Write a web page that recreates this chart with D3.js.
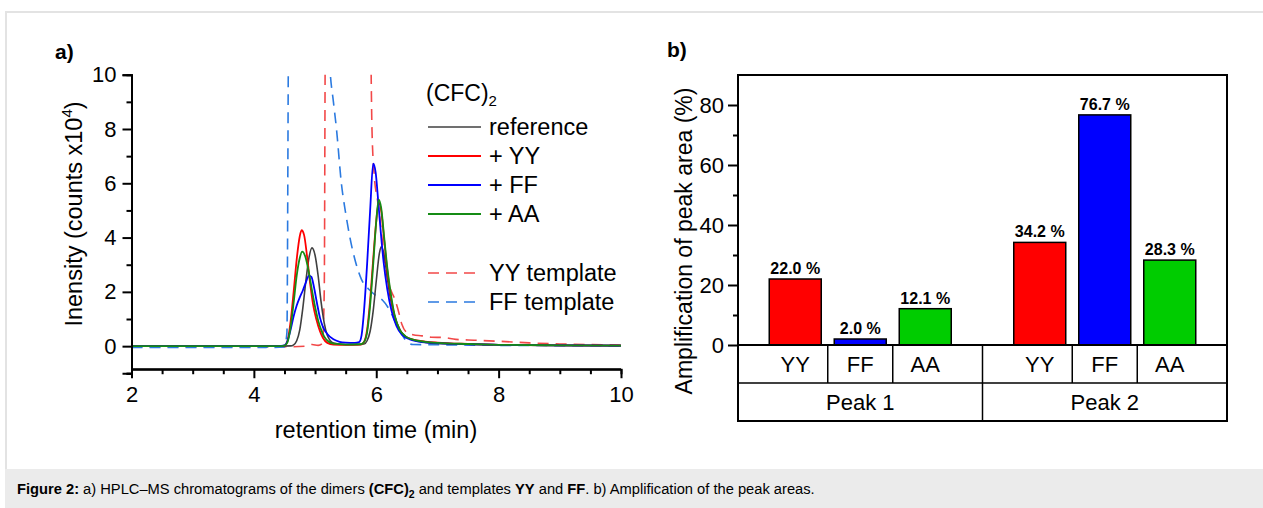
<!DOCTYPE html>
<html>
<head>
<meta charset="utf-8">
<script src="https://cdn.jsdelivr.net/npm/d3@7"></script>
<style>
	body { margin: 0; background: #fff; }
	text { font-family: "Liberation Sans", Arial, sans-serif; fill: #000; }
</style>
</head>
<body>
<svg id="fig"></svg>
<script>
// chromatograms, [retention time (min), intensity (counts x1e4)]
var refData = [[2,0],[4.3,0],[4.6,0.01],[4.65,0.05],[4.7,0.2],[4.75,0.6],[4.8,1.4],[4.85,2.4],[4.9,3.25],[4.95,3.62],[5.0,3.35],[5.05,2.6],[5.1,1.6],[5.15,0.85],[5.2,0.4],[5.25,0.2],[5.3,0.12],[5.4,0.08],[5.6,0.06],[5.8,0.08],[5.85,0.2],[5.9,0.55],[5.95,1.3],[6.0,2.4],[6.05,3.4],[6.08,3.66],[6.12,3.45],[6.17,2.7],[6.22,1.9],[6.3,1.1],[6.4,0.55],[6.5,0.32],[6.65,0.2],[6.8,0.14],[7.0,0.1],[7.5,0.07],[8,0.05],[9,0.03],[10,0.02]];
var yyData = [[2,0],[4.4,0],[4.5,0.02],[4.55,0.2],[4.6,0.9],[4.65,2.0],[4.7,3.2],[4.75,4.05],[4.78,4.27],[4.82,4.1],[4.87,3.3],[4.92,2.3],[4.97,1.5],[5.02,1.0],[5.08,0.55],[5.13,0.3],[5.2,0.12],[5.3,0.06],[5.5,0.05],[5.75,0.06],[5.8,0.15],[5.85,0.6],[5.9,1.7],[5.95,3.2],[6.0,4.6],[6.04,5.3],[6.08,5.0],[6.13,3.9],[6.18,2.8],[6.24,1.8],[6.3,1.1],[6.38,0.6],[6.48,0.35],[6.6,0.24],[6.8,0.17],[7.0,0.13],[7.5,0.08],[8,0.05],[9,0.03],[10,0.02]];
var ffData = [[2,0],[4.4,0],[4.5,0.03],[4.55,0.2],[4.6,0.6],[4.65,1.1],[4.7,1.5],[4.75,1.8],[4.8,2.05],[4.85,2.35],[4.9,2.6],[4.94,2.55],[4.98,2.2],[5.03,1.6],[5.08,1.05],[5.13,0.7],[5.2,0.45],[5.3,0.25],[5.4,0.16],[5.5,0.13],[5.65,0.12],[5.72,0.15],[5.76,0.4],[5.8,1.3],[5.85,3.0],[5.9,5.0],[5.95,6.72],[5.99,6.4],[6.03,5.4],[6.07,4.3],[6.12,3.1],[6.18,2.1],[6.25,1.3],[6.33,0.75],[6.42,0.42],[6.55,0.25],[6.7,0.17],[7,0.11],[7.5,0.07],[8,0.05],[9,0.03],[10,0.02]];
var aaData = [[2,0],[4.4,0],[4.5,0.02],[4.55,0.15],[4.6,0.7],[4.65,1.6],[4.7,2.6],[4.75,3.25],[4.79,3.48],[4.84,3.3],[4.9,2.7],[4.95,2.05],[5.0,1.45],[5.05,0.95],[5.1,0.6],[5.15,0.35],[5.22,0.17],[5.3,0.09],[5.5,0.06],[5.75,0.07],[5.8,0.15],[5.85,0.5],[5.9,1.5],[5.95,3.0],[6.0,4.6],[6.04,5.4],[6.08,5.1],[6.13,4.0],[6.18,2.9],[6.24,1.9],[6.3,1.15],[6.38,0.62],[6.48,0.36],[6.6,0.24],[6.8,0.16],[7,0.12],[7.5,0.08],[8,0.05],[9,0.03],[10,0.02]];
var yyTemplate = [[2,-0.02],[4.6,-0.02],[4.85,0.0],[4.95,0.06],[5.05,0.03],[5.12,0.1],[5.15,2],[5.17,12],[5.9,12],[5.93,8],[5.97,6.2],[6.02,5.4],[6.08,4.3],[6.13,3.2],[6.18,2.5],[6.25,2.0],[6.3,1.75],[6.35,1.4],[6.42,0.8],[6.5,0.5],[6.6,0.42],[6.75,0.38],[6.9,0.33],[7.1,0.32],[7.3,0.25],[7.6,0.22],[8,0.18],[8.5,0.12],[9,0.08],[9.5,0.06],[10,0.04]];
var ffTemplate = [[2,-0.05],[4.2,-0.05],[4.25,0.02],[4.3,-0.05],[4.5,-0.03],[4.54,0.5],[4.57,12],[5.2,12],[5.25,10],[5.3,9],[5.35,8],[5.43,6],[5.5,4.9],[5.57,4.0],[5.65,3.2],[5.76,2.45],[5.9,2.05],[6.0,1.85],[6.1,1.7],[6.2,1.4],[6.27,1.1],[6.35,0.7],[6.44,0.35],[6.52,0.12],[6.6,0.06],[7,0.05],[8,0.03],[9,0.02],[10,0.01]];

var xTicks = [2, 4, 6, 8, 10];
var yTicks = [0, 2, 4, 6, 8, 10];

// bar chart
var peaks = ['Peak 1', 'Peak 2'];
var additives = ['YY', 'FF', 'AA'];
var peak1Values = [22.0, 2.0, 12.1];
var peak2Values = [34.2, 76.7, 28.3];
var barTicks = [0, 20, 40, 60, 80];

var W = 1263, H = 508;
var svg = d3.select('#fig').attr('width', W).attr('height', H);

// frame + caption band
svg.append('rect').attr('x', 6).attr('y', 12).attr('width', W).attr('height', H)
	.attr('fill', '#fff').attr('stroke', '#e3e3e3').attr('stroke-width', 2);
svg.append('rect').attr('x', 5).attr('y', 469).attr('width', W).attr('height', H - 469)
	.attr('fill', '#ebebeb');

var cap = svg.append('text').attr('x', 17).attr('y', 494).style('font-size', '14.7px');
cap.append('tspan').style('font-weight', 'bold').text('Figure 2:');
cap.append('tspan').text(' a) HPLC\u2013MS chromatograms of the dimers ');
cap.append('tspan').style('font-weight', 'bold').text('(CFC)');
cap.append('tspan').style('font-weight', 'bold').style('font-size', '10.5px').attr('dy', 4).text('2');
cap.append('tspan').attr('dy', -4).text(' and templates ');
cap.append('tspan').style('font-weight', 'bold').text('YY');
cap.append('tspan').text(' and ');
cap.append('tspan').style('font-weight', 'bold').text('FF');
cap.append('tspan').text('. b) Amplification of the peak areas.');

// ---------- a) chromatogram ----------
var x = d3.scaleLinear().domain([2, 10]).range([131.5, 621]);
var y = d3.scaleLinear().domain([-1, 10]).range([373.3, 74.7]);
var xAxisY = y(-0.85);

svg.append('text').attr('x', 55).attr('y', 59).style('font-size', '21px')
	.style('font-weight', 'bold').text('a)');

var gA = svg.append('g');
svg.append('clipPath').attr('id', 'clipA').append('rect')
	.attr('x', x(2)).attr('y', y(10)).attr('width', x(10) - x(2)).attr('height', xAxisY - y(10));

var line = d3.line()
	.x(function(d) { return x(d[0]); })
	.y(function(d) { return y(d[1]); })
	.curve(d3.curveMonotoneX);

var series = [
	{name: 'YY template', data: yyTemplate, color: '#f24848', dash: '11,7', width: 1.6},
	{name: 'FF template', data: ffTemplate, color: '#2b7ae0', dash: '11,7', width: 1.6},
	{name: 'reference', data: refData, color: '#404040', dash: null, width: 1.6},
	{name: '+ YY', data: yyData, color: '#ff0000', dash: null, width: 1.8},
	{name: '+ FF', data: ffData, color: '#0000ff', dash: null, width: 1.8},
	{name: '+ AA', data: aaData, color: '#158c15', dash: null, width: 1.8}
];

gA.append('g').attr('clip-path', 'url(#clipA)')
	.selectAll('path')
	.data(series)
	.enter()
	.append('path')
	.attr('d', function(d) { return line(d.data); })
	.attr('fill', 'none')
	.attr('stroke', function(d) { return d.color; })
	.attr('stroke-width', function(d) { return d.width; })
	.attr('stroke-dasharray', function(d) { return d.dash; });

// axes
gA.append('g').attr('transform', 'translate(' + x(2) + ',0)')
	.call(d3.axisLeft(y).tickValues(yTicks).tickSize(9).tickPadding(6).tickFormat(d3.format('d')));
gA.append('g').attr('transform', 'translate(' + x(2) + ',0)')
	.call(d3.axisLeft(y).tickValues([-1, 1, 3, 5, 7, 9]).tickSize(5).tickFormat(''));
var xAxisA = gA.append('g').attr('transform', 'translate(0,' + xAxisY + ')')
	.call(d3.axisBottom(x).tickValues(xTicks).tickSize(9).tickPadding(8).tickFormat(d3.format('d')));
gA.append('g').attr('transform', 'translate(0,' + xAxisY + ')')
	.call(d3.axisBottom(x).tickValues(d3.range(2.5, 10, 0.5).filter(function(v) { return v % 2 != 0; }))
		.tickSize(5).tickFormat(''));

gA.selectAll('.domain').attr('stroke', '#000').attr('stroke-width', 2);
gA.selectAll('.tick line').attr('stroke', '#000').attr('stroke-width', 2);
gA.selectAll('.tick text').style('font-size', '22px').style('font-family', '"Liberation Sans", Arial, sans-serif');
// axis lines without the outer end ticks
gA.selectAll('.domain').each(function() {
	var p = d3.select(this);
	p.attr('d', p.attr('d').replace(/^M[-0-9.]+,([-0-9.]+)H0V([-0-9.]+)H[-0-9.]+$/, 'M0,$1V$2')
		.replace(/^M([-0-9.]+),[-0-9.]+V0H([-0-9.]+)V[-0-9.]+$/, 'M$1,0H$2'));
});
xAxisA.select('.domain').attr('d', 'M' + x(2) + ',0H' + x(10));

gA.append('text').attr('x', 376).attr('y', 438).attr('text-anchor', 'middle')
	.style('font-size', '23.5px').text('retention time (min)');

var yLab = gA.append('text').attr('transform', 'translate(82,214) rotate(-90)')
	.attr('text-anchor', 'middle').style('font-size', '23.5px');
yLab.append('tspan').text('Inensity (counts x10');
yLab.append('tspan').style('font-size', '15px').attr('dy', -10).text('4');
yLab.append('tspan').attr('dy', 10).text(')');

// legend
gA.append('text').attr('x', 426).attr('y', 101).style('font-size', '23px')
	.call(function(t) {
		t.append('tspan').text('(CFC)');
		t.append('tspan').style('font-size', '15px').attr('dy', 5).text('2');
	});
var legY = {'reference': 127, '+ YY': 156, '+ FF': 185, '+ AA': 214, 'YY template': 273, 'FF template': 302};
var leg = gA.selectAll('.leg').data(series).enter().append('g').attr('class', 'leg')
	.attr('transform', function(d) { return 'translate(428,' + legY[d.name] + ')'; });
leg.append('line').attr('x1', 0).attr('x2', 53)
	.attr('stroke', function(d) { return d.color; })
	.attr('stroke-width', function(d) { return d.width; })
	.attr('stroke-dasharray', function(d) { return d.dash; });
leg.append('text').attr('x', 61).attr('y', 8).style('font-size', '23.5px')
	.text(function(d) { return d.name; });

// ---------- b) bar chart ----------
svg.append('text').attr('x', 667).attr('y', 57).style('font-size', '21px')
	.style('font-weight', 'bold').text('b)');

var boxL = 738, boxR = 1227, boxT = 75, rowMid = 383, boxB = 421;
var yb = d3.scaleLinear().domain([0, 90]).range([345, boxT]);
var x0 = d3.scaleBand().domain(peaks).range([boxL, boxR]);
var x1 = d3.scaleBand().domain(additives).range([0, 195]).paddingInner(0.2).paddingOuter(0.1);
var barColor = {'YY': '#ff0000', 'FF': '#0000ff', 'AA': '#00cc00'};
var barRows = [peak1Values, peak2Values];

var gB = svg.append('g');

function colX(p, a) {
	return x0(p) + x0.bandwidth() / 2 - 97.5 + x1(a);
}

var barData = [];
peaks.forEach(function(p, i) {
	additives.forEach(function(a, j) {
		barData.push({peak: p, add: a, value: barRows[i][j]});
	});
});

gB.selectAll('rect.bar').data(barData).enter().append('rect').attr('class', 'bar')
	.attr('x', function(d) { return colX(d.peak, d.add); })
	.attr('y', function(d) { return yb(d.value); })
	.attr('width', x1.bandwidth())
	.attr('height', function(d) { return yb(0) - yb(d.value); })
	.attr('fill', function(d) { return barColor[d.add]; })
	.attr('stroke', '#000').attr('stroke-width', 1.5);

gB.selectAll('text.val').data(barData).enter().append('text').attr('class', 'val')
	.attr('x', function(d) { return colX(d.peak, d.add) + x1.bandwidth() / 2; })
	.attr('y', function(d) { return yb(d.value) - 5; })
	.attr('text-anchor', 'middle').style('font-size', '16px').style('font-weight', 'bold')
	.text(function(d) { return d.value.toFixed(1) + ' %'; });

// box and table
gB.append('rect').attr('x', boxL).attr('y', boxT).attr('width', boxR - boxL).attr('height', boxB - boxT)
	.attr('fill', 'none').attr('stroke', '#000').attr('stroke-width', 2);
gB.append('line').attr('x1', boxL).attr('x2', boxR).attr('y1', yb(0)).attr('y2', yb(0))
	.attr('stroke', '#000').attr('stroke-width', 2);
gB.append('line').attr('x1', boxL).attr('x2', boxR).attr('y1', rowMid).attr('y2', rowMid)
	.attr('stroke', '#000').attr('stroke-width', 1.5);

var gap = x1.step() * x1.paddingInner();
peaks.forEach(function(p, i) {
	if(i > 0) {
		gB.append('line').attr('x1', x0(p)).attr('x2', x0(p)).attr('y1', yb(0)).attr('y2', boxB)
			.attr('stroke', '#000').attr('stroke-width', 1.5);
	}
	additives.forEach(function(a, j) {
		if(j > 0) {
			var cx = colX(p, a) - gap / 2;
			gB.append('line').attr('x1', cx).attr('x2', cx).attr('y1', yb(0)).attr('y2', rowMid)
				.attr('stroke', '#000').attr('stroke-width', 1.5);
		}
		gB.append('text').attr('x', colX(p, a) + x1.bandwidth() / 2).attr('y', 372)
			.attr('text-anchor', 'middle').style('font-size', '22px').text(a);
	});
	gB.append('text').attr('x', x0(p) + x0.bandwidth() / 2).attr('y', 410)
		.attr('text-anchor', 'middle').style('font-size', '22px').text(p);
});

gB.append('g').attr('transform', 'translate(' + boxL + ',0)')
	.call(d3.axisLeft(yb).tickValues(barTicks).tickSize(10).tickPadding(4).tickFormat(d3.format('d')));
gB.append('g').attr('transform', 'translate(' + boxL + ',0)')
	.call(d3.axisLeft(yb).tickValues([10, 30, 50, 70]).tickSize(5).tickFormat(''));
gB.selectAll('.domain').remove();
gB.selectAll('.tick line').attr('stroke', '#000').attr('stroke-width', 2);
gB.selectAll('.tick text').style('font-size', '22px').style('font-family', '"Liberation Sans", Arial, sans-serif');

gB.append('text').attr('transform', 'translate(692,241) rotate(-90)')
	.attr('text-anchor', 'middle').style('font-size', '23px').text('Amplification of peak area (%)');
</script>
</body>
</html>
